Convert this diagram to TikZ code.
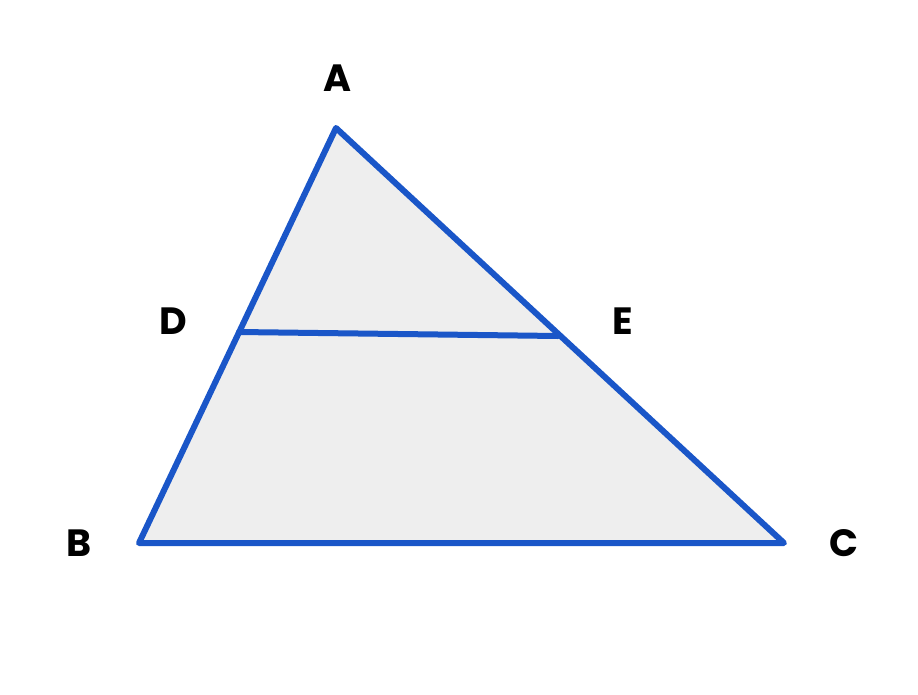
\documentclass[tikz,border=0pt]{standalone}
\usepackage{fontspec}
\setmainfont{Poppins}
\begin{document}
\begin{tikzpicture}[x=1pt,y=-1pt]
		\tikzset{side/.style={line width=6pt, color=edgeblue, line join=round, line cap=round},
			vlabel/.style={font=\fontsize{38}{40}\selectfont\bfseries}}
		\definecolor{edgeblue}{HTML}{1A56C8}
		\definecolor{trigray}{HTML}{EEEEEE}
		\useasboundingbox (0,0) rectangle (918,694);
		
		% Vertices
		\coordinate (A) at (336,128);
		\coordinate (B) at (139,543);
		\coordinate (C) at (784,543);
		\coordinate (D) at (239,332);
		\coordinate (E) at (558,336);
		
		% Fill and draw the triangle
		\fill[fill=trigray] (A) -- (B) -- (C) -- cycle;
		\draw[side] (A) -- (B) -- (C) -- cycle;
		\draw[side] (D) -- (E);
		
		% Label the points
		\node[vlabel] (lA) at (337,78) {A};
		\node[vlabel] (lB) at (79,543) {B};
		\node[vlabel] (lC) at (844,543) {C};
		\node[vlabel] (lD) at (173,321) {D};
		\node[vlabel] (lE) at (623,321) {E};
	\end{tikzpicture}
\end{document}
